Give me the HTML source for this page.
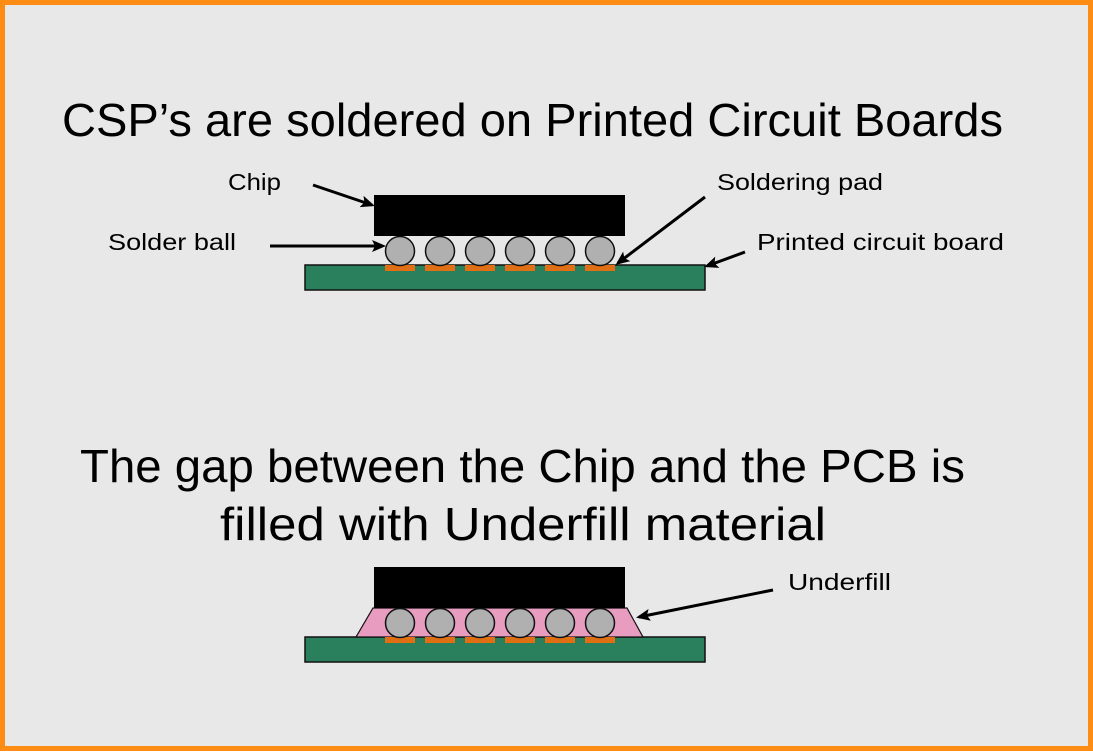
<!DOCTYPE html>
<html><head><meta charset="utf-8"><style>
html,body{margin:0;padding:0;}
body{width:1093px;height:751px;overflow:hidden;}
</style></head><body>
<svg width="1093" height="751" xmlns="http://www.w3.org/2000/svg" font-family="Liberation Sans, sans-serif">
<defs>
<marker id="ah" markerWidth="14" markerHeight="12" refX="11" refY="6" orient="auto" markerUnits="userSpaceOnUse">
<path d="M0,0 L14,6 L0,12 L3,6 z" fill="#000"/>
</marker>
</defs>
<rect x="0" y="0" width="1093" height="751" fill="#fd8c14"/>
<rect x="5" y="5" width="1083" height="741" fill="#e8e8e8"/>

<text x="62" y="136" font-size="46" textLength="941" lengthAdjust="spacingAndGlyphs" fill="#000">CSP’s are soldered on Printed Circuit Boards</text>
<text x="80" y="482" font-size="46" textLength="885" lengthAdjust="spacingAndGlyphs" fill="#000">The gap between the Chip and the PCB is</text>
<text x="220" y="540" font-size="46" textLength="606" lengthAdjust="spacingAndGlyphs" fill="#000">filled with Underfill material</text>

<g font-size="23" fill="#000">
<text x="228" y="190" textLength="53" lengthAdjust="spacingAndGlyphs">Chip</text>
<text x="108" y="250" textLength="128" lengthAdjust="spacingAndGlyphs">Solder ball</text>
<text x="717" y="190" textLength="166" lengthAdjust="spacingAndGlyphs">Soldering pad</text>
<text x="757" y="250" textLength="247" lengthAdjust="spacingAndGlyphs">Printed circuit board</text>
<text x="788" y="590" textLength="103" lengthAdjust="spacingAndGlyphs">Underfill</text>
</g>

<rect x="305" y="265" width="400" height="25" fill="#2a7f5c" stroke="#111" stroke-width="1.5"/>
<rect x="374" y="195" width="251" height="41" fill="#000"/>
<g fill="#e06f14">
<rect x="385" y="265" width="30" height="6"/><rect x="425" y="265" width="30" height="6"/><rect x="465" y="265" width="30" height="6"/>
<rect x="505" y="265" width="30" height="6"/><rect x="545" y="265" width="30" height="6"/><rect x="585" y="265" width="30" height="6"/>
</g>
<g fill="#b0b0b0" stroke="#111" stroke-width="1.5">
<circle cx="400" cy="251" r="14.5"/><circle cx="440" cy="251" r="14.5"/><circle cx="480" cy="251" r="14.5"/>
<circle cx="520" cy="251" r="14.5"/><circle cx="560" cy="251" r="14.5"/><circle cx="600" cy="251" r="14.5"/>
</g>
<g stroke="#000" stroke-width="3" marker-end="url(#ah)">
<line x1="313" y1="185" x2="372" y2="205"/>
<line x1="270" y1="246" x2="383" y2="246"/>
<line x1="705" y1="197" x2="618" y2="263"/>
<line x1="745" y1="252" x2="707" y2="266"/>
<line x1="773" y1="590" x2="639" y2="617"/>
</g>

<rect x="305" y="637" width="400" height="25" fill="#2a7f5c" stroke="#111" stroke-width="1.5"/>
<polygon points="373,608 627,608 643,637 356,637" fill="#e89cbf" stroke="#111" stroke-width="1.2"/>
<rect x="374" y="567" width="251" height="41" fill="#000"/>
<g fill="#e06f14">
<rect x="385" y="637" width="30" height="6"/><rect x="425" y="637" width="30" height="6"/><rect x="465" y="637" width="30" height="6"/>
<rect x="505" y="637" width="30" height="6"/><rect x="545" y="637" width="30" height="6"/><rect x="585" y="637" width="30" height="6"/>
</g>
<g fill="#b0b0b0" stroke="#111" stroke-width="1.5">
<circle cx="400" cy="623" r="14.5"/><circle cx="440" cy="623" r="14.5"/><circle cx="480" cy="623" r="14.5"/>
<circle cx="520" cy="623" r="14.5"/><circle cx="560" cy="623" r="14.5"/><circle cx="600" cy="623" r="14.5"/>
</g>
</svg>
</body></html>
